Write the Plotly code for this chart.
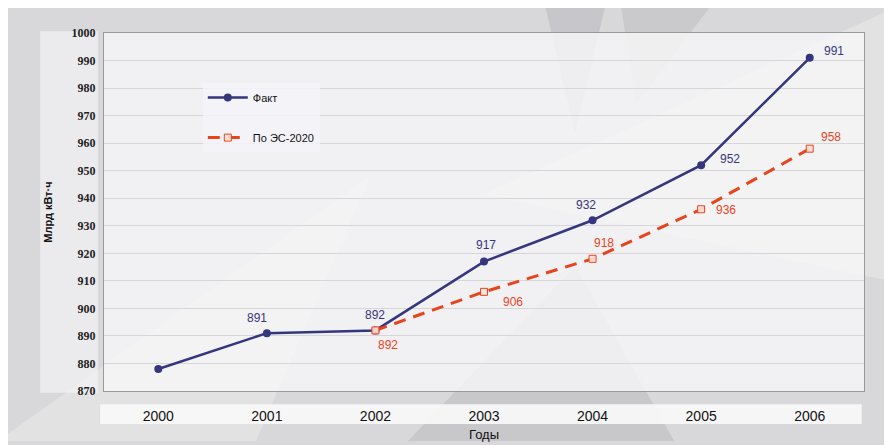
import plotly.graph_objects as go

years = ["2000", "2001", "2002", "2003", "2004", "2005", "2006"]
fact_values = [878, 891, 892, 917, 932, 952, 991]
plan_years = ["2002", "2003", "2004", "2005", "2006"]
plan_values = [892, 906, 918, 936, 958]
fact_name = "Факт"
plan_name = "По ЭС-2020"
y_title = "Млрд кВт·ч"
x_title = "Годы"

# label offsets (pixels) for data labels
fact_shift = [None, (-10, 15), (0, 15), (2, 17), (-7, 15), (29, 6), (24, 7)]
plan_shift = [(13, -15), (29, -10), (11, 16), (25, -1), (21, 12)]

FACT_C = "#36367f"
PLAN_C = "#e8441c"

fig = go.Figure()
fig.add_trace(go.Scatter(
    x=years, y=fact_values, name=fact_name, mode="lines+markers",
    line=dict(color=FACT_C, width=2.5),
    marker=dict(symbol="circle", size=8, color=FACT_C),
    legendgroup="a",
))
fig.add_trace(go.Scatter(
    x=plan_years, y=plan_values, name=plan_name, mode="lines+markers",
    line=dict(color=PLAN_C, width=3, dash="12px,8px"),
    marker=dict(symbol="square", size=7, color="rgba(255,225,215,0.9)",
                line=dict(color=PLAN_C, width=1)),
    legendgroup="b",
))

ann = []
for x, v, s in zip(years, fact_values, fact_shift):
    if s is None:
        continue
    ann.append(dict(x=years.index(x), y=v, text=str(v), showarrow=False,
                    xshift=s[0], yshift=s[1],
                    font=dict(family="Arial", size=12, color=FACT_C)))
for x, v, s in zip(plan_years, plan_values, plan_shift):
    ann.append(dict(x=years.index(x), y=v, text=str(v), showarrow=False,
                    xshift=s[0], yshift=s[1],
                    font=dict(family="Arial", size=12, color=PLAN_C)))

shapes = [
    # textured background hints
    dict(type="path", xref="paper", yref="paper", layer="below",
         path="M 0.58 1.08 L 0.66 1.08 L 0.62 0.72 Z",
         fillcolor="rgba(170,170,175,0.35)", line=dict(width=0)),
    dict(type="path", xref="paper", yref="paper", layer="below",
         path="M 0.68 1.08 L 0.80 1.08 L 0.70 0.80 Z",
         fillcolor="rgba(170,170,175,0.30)", line=dict(width=0)),
    dict(type="path", xref="paper", yref="paper", layer="below",
         path="M 0.50 0.55 L 1.05 1.08 L 1.05 0.30 Z",
         fillcolor="rgba(255,255,255,0.25)", line=dict(width=0)),
    dict(type="path", xref="paper", yref="paper", layer="below",
         path="M -0.14 -0.14 L 0.35 0.6 L 0.20 -0.14 Z",
         fillcolor="rgba(255,255,255,0.25)", line=dict(width=0)),
    dict(type="path", xref="paper", yref="paper", layer="below",
         path="M 0.40 -0.14 L 0.62 0.35 L 0.75 -0.14 Z",
         fillcolor="rgba(150,150,155,0.25)", line=dict(width=0)),
    # plot area tint
    dict(type="rect", xref="paper", yref="paper", layer="below",
         x0=0, x1=1, y0=0, y1=1,
         fillcolor="rgba(246,246,248,0.82)", line=dict(width=0)),
    # y-label column band
    dict(type="rect", xref="paper", yref="paper", layer="below",
         x0=-0.084, x1=-0.008, y0=-0.005, y1=1.005,
         fillcolor="rgba(244,244,246,0.7)", line=dict(width=0)),
    # x tick label band
    dict(type="rect", xref="paper", yref="paper", layer="below",
         x0=-0.005, x1=0.997, y0=-0.092, y1=-0.037,
         fillcolor="rgba(248,248,250,0.92)", line=dict(width=0)),
]

fig.update_layout(
    width=884, height=437,
    margin=dict(l=96, r=28, t=25, b=54),
    paper_bgcolor="#d8d8da",
    plot_bgcolor="rgba(0,0,0,0)",
    font=dict(family="Arial", color="#111"),
    showlegend=True,
    legend=dict(x=0.13, y=0.86, xanchor="left", yanchor="top",
                bgcolor="rgba(245,245,248,0.85)", borderwidth=0,
                font=dict(family="Arial", size=11, color="#111"),
                tracegroupgap=21, itemwidth=40),
    annotations=ann,
    shapes=shapes,
)
fig.update_xaxes(
    type="category", range=[-0.5, 6.5], automargin=False,
    showgrid=False, showline=True, linecolor="#9a9a9a", linewidth=1, mirror=True,
    ticks="outside", ticklen=12, tickcolor="rgba(0,0,0,0)",
    tickfont=dict(family="Arial", size=14, color="#111"),
    title=dict(text=x_title, font=dict(family="Arial", size=13, color="#111"), standoff=7),
)
fig.update_yaxes(
    range=[870, 1000], dtick=10, automargin=False,
    showgrid=True, gridcolor="#d6d6da", gridwidth=1,
    showline=True, linecolor="#9a9a9a", linewidth=1, mirror=True,
    ticks="outside", ticklen=5, tickcolor="rgba(0,0,0,0)",
    tickfont=dict(family="Liberation Serif", size=12, color="#222", weight="bold"),
    title=dict(text=y_title, font=dict(family="Arial", size=11, color="#111", weight="bold"), standoff=16),
)
fig.write_html("out.html")
